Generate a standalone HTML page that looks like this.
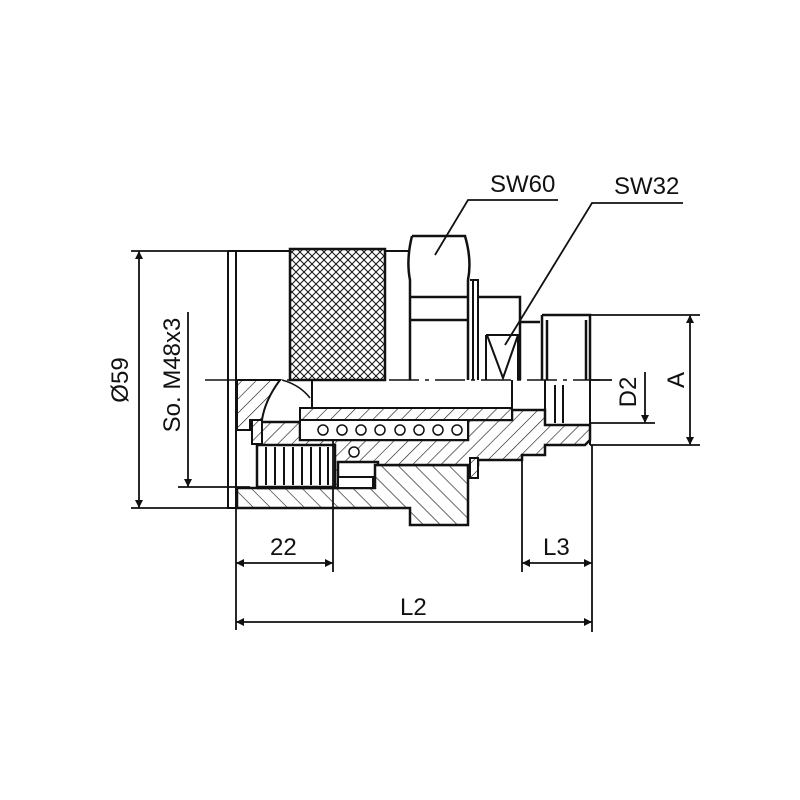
<!DOCTYPE html>
<html><head><meta charset="utf-8"><style>
html,body{margin:0;padding:0;background:#fff;}
svg{display:block;}
text{font-family:"Liberation Sans","DejaVu Sans",sans-serif;fill:#111;}
</style></head><body>
<svg width="800" height="800" viewBox="0 0 800 800" xmlns="http://www.w3.org/2000/svg">
<defs>
<pattern id="h" patternUnits="userSpaceOnUse" width="10" height="10" patternTransform="rotate(45)">
<rect width="10" height="10" fill="#fff"/><line x1="0" y1="0" x2="0" y2="10" stroke="#111" stroke-width="1.2"/></pattern>
<pattern id="h2" patternUnits="userSpaceOnUse" width="12" height="12" patternTransform="rotate(-45)">
<rect width="12" height="12" fill="#fff"/><line x1="0" y1="0" x2="0" y2="12" stroke="#111" stroke-width="1.2"/></pattern>
<pattern id="k" patternUnits="userSpaceOnUse" width="8" height="8">
<path d="M0 0L8 8M8 0L0 8" stroke="#111" stroke-width="1"/></pattern>
<marker id="a" viewBox="0 0 10 10" refX="10" refY="5" markerWidth="12" markerHeight="8" orient="auto-start-reverse" markerUnits="userSpaceOnUse">
<path d="M0 0L10 5L0 10z" fill="#111"/></marker>
</defs>
<g stroke="#111" fill="none" stroke-width="2">
<!-- lower sleeve -->
<path d="M237 488H375V465H468V525H410V508H237Z" fill="url(#h2)" stroke-width="2.5"/>
<!-- inner body -->
<path d="M258 422H300V440H468V420H512V410H545V425H590V440L585 445H545V455H522V460H478V465H378V462H338V488H258Z" fill="url(#h)" stroke-width="2.5"/>
<!-- left sleeve -->
<path d="M237 380H280Q265 400 262 420H250V430H237Z" fill="url(#h)"/>
<path d="M300 408H512V420H300Z" fill="url(#h)"/>
<rect x="252" y="420" width="10" height="24" fill="url(#h)"/>
<rect x="470" y="458" width="8" height="20" fill="url(#h)"/>
<!-- threaded insert -->
<rect x="257" y="445" width="78" height="42" fill="#fff" stroke-width="2.5"/>
<path d="M266 447V485M275 447V485M284 447V485M293 447V485M302 447V485M311 447V485M320 447V485M328 447V485" stroke-width="2"/>
<rect x="338" y="477" width="35" height="11" fill="#fff"/>
<!-- springs -->
<rect x="300" y="420" width="168" height="20" fill="#fff" stroke-width="2"/>
<g stroke-width="1.5" fill="#fff">
<circle cx="323" cy="430" r="5"/><circle cx="342" cy="430" r="5"/><circle cx="361" cy="430" r="5"/><circle cx="380" cy="430" r="5"/>
<circle cx="400" cy="430" r="5"/><circle cx="419" cy="430" r="5"/><circle cx="438" cy="430" r="5"/><circle cx="457" cy="430" r="5"/>
<circle cx="354" cy="452" r="5"/>
</g>
<!-- outer body -->
<path d="M228 251V508H236"/>
<path d="M236 251V508"/>
<path d="M228 251H290M385 251H408"/>
<rect x="290" y="249" width="95" height="131" fill="url(#k)" stroke-width="2.5"/>
<path d="M385 251V380"/>
<!-- nut SW60 -->
<path d="M412 236H465Q472 260 468 280V380M412 236Q406 260 410 280V380" stroke-width="2.5"/>
<path d="M410 297H468M410 320H468" stroke-width="2.5"/>
<path d="M470 280H478V380M473 280V380" stroke-width="2"/>
<path d="M478 297H520V380M520 322H540" stroke-width="2.5"/>
<!-- SW32 -->
<path d="M486 335H518V380M486 335V380M487 335L503 378L518 335" stroke-width="2"/>
<path d="M542 315H590V380M542 315V380M547 320V380M586 320V380" stroke-width="2.5"/>
<path d="M545 380V425M590 380V445M555 385V423M563 385V423" stroke-width="2"/>
<path d="M312 380V408H512V380" stroke-width="2"/>
<path d="M282 380Q300 385 310 398" stroke-width="1.5"/>
<!-- centerline -->
<path d="M205 380H600" stroke-width="1.5" stroke-dasharray="30 6 4 6"/>
<!-- leaders -->
<path d="M435 255L468 200H558M505 345L592 203H683" stroke-width="1.8"/>
<!-- dims -->
<g stroke-width="1.8">
<path d="M131 251H228M131 508H240M178 487H250M590 315H700M590 445H700M590 423H655M590 380H612"/>
<path d="M139 251V508" marker-start="url(#a)" marker-end="url(#a)"/>
<path d="M188 312V487" marker-end="url(#a)"/>
<path d="M690 315V445" marker-start="url(#a)" marker-end="url(#a)"/>
<path d="M645 372V423" marker-end="url(#a)"/>
<path d="M236 508V630M333 440V572M522 460V572M592 445V632"/>
<path d="M236 563H333" marker-start="url(#a)" marker-end="url(#a)"/>
<path d="M522 563H592" marker-start="url(#a)" marker-end="url(#a)"/>
<path d="M236 622H592" marker-start="url(#a)" marker-end="url(#a)"/>
</g>
</g>
<g font-size="24">
<text x="490" y="192">SW60</text>
<text x="614" y="194">SW32</text>
<text x="270" y="555">22</text>
<text x="543" y="555">L3</text>
<text x="400" y="615">L2</text>
<text transform="translate(128,380) rotate(-90)" text-anchor="middle">Ø59</text>
<text transform="translate(180,375) rotate(-90)" text-anchor="middle">So. M48x3</text>
<text transform="translate(636,392) rotate(-90)" text-anchor="middle">D2</text>
<text transform="translate(684,380) rotate(-90)" text-anchor="middle">A</text>
</g>
</svg>
</body></html>
